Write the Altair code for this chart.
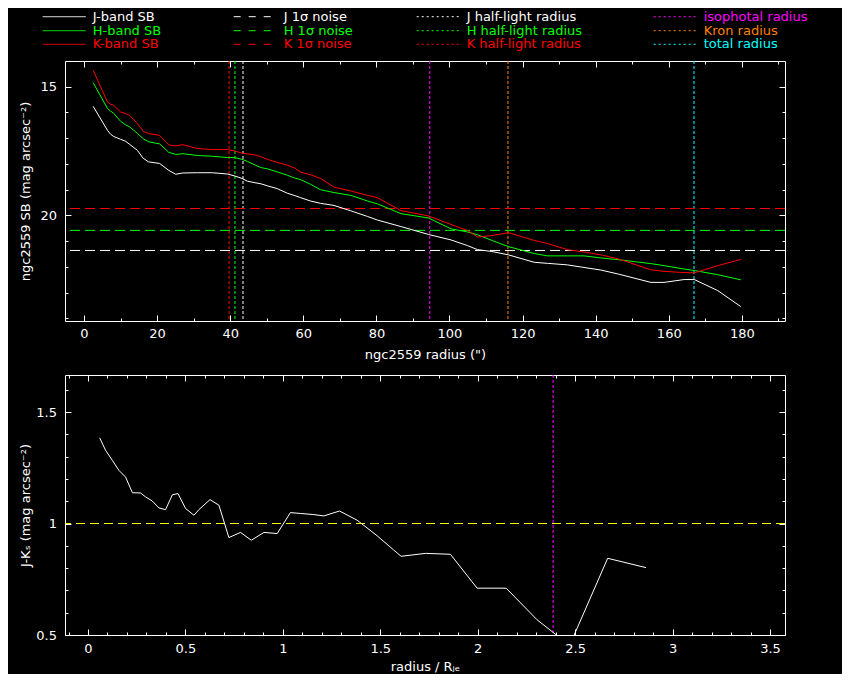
import altair as alt
import pandas as pd

FONT = "DejaVu Sans"
FS = 13

# ---------------- top panel: surface-brightness profiles ----------------
radius = [2.5, 6.4, 7.3, 8.1, 10.0, 11.4, 12.5, 14.6, 16.2, 17.7,
          20.7, 23.2, 25.1, 27.0, 31.0, 35.1, 39.2, 41.1, 43.2, 44.7,
          46.5, 48.4, 50.2, 52.9, 55.7, 57.5, 59.3, 62.0, 64.7, 68.4,
          73.0, 77.6, 80.3, 86.7, 94.3, 100.4, 104.9, 107.7, 111.6, 116.1,
          123.2, 126.8, 132.3, 136.8, 141.4, 146.3, 155.1, 158.7, 164.2, 167.0,
          173.4, 179.7]
sb_j = [15.76, 16.69, 16.85, 16.93, 17.04, 17.12, 17.24, 17.47, 17.78, 17.92,
        17.98, 18.25, 18.40, 18.35, 18.34, 18.34, 18.39, 18.46, 18.56, 18.67,
        18.72, 18.77, 18.85, 18.96, 19.14, 19.22, 19.31, 19.44, 19.53, 19.61,
        19.82, 20.04, 20.18, 20.43, 20.74, 20.95, 21.17, 21.33, 21.40, 21.53,
        21.82, 21.86, 21.92, 22.02, 22.12, 22.28, 22.60, 22.60, 22.49, 22.49,
        22.92, 23.54]
sb_h = [14.84, 15.84, 15.95, 16.03, 16.34, 16.48, 16.56, 16.81, 17.02, 17.14,
        17.22, 17.55, 17.63, 17.60, 17.67, 17.70, 17.75, 17.75, 17.82, 17.90,
        18.02, 18.14, 18.19, 18.31, 18.44, 18.54, 18.61, 18.79, 19.00, 19.11,
        19.22, 19.44, 19.55, 19.93, 20.10, 20.52, 20.64, 20.75, 20.97, 21.21,
        21.48, 21.57, 21.57, 21.57, 21.65, 21.72, 21.87, 21.95, 22.08, 22.14,
        22.30, 22.50]
sb_k = [14.36, 15.59, 15.68, 15.72, 15.98, 16.04, 16.11, 16.43, 16.73, 16.82,
        16.89, 17.26, 17.30, 17.25, 17.40, 17.44, 17.44, 17.49, 17.58, 17.61,
        17.64, 17.72, 17.82, 17.94, 18.05, 18.15, 18.32, 18.42, 18.56, 18.90,
        19.05, 19.22, 19.31, 19.81, 20.02, 20.35, 20.58, 20.84, 20.78, 20.67,
        20.97, 21.09, 21.33, 21.42, 21.53, 21.69, 22.11, 22.17, 22.22, 22.23,
        21.95, 21.71]

noise_band = ["J", "H", "K"]
noise_level = [21.36, 20.58, 19.73]
noise_color = ["#ffffff", "#00ff00", "#ff0000"]

rad_name = ["J half-light", "H half-light", "K half-light", "isophotal", "Kron", "total"]
rad_value = [43.5, 41.3, 39.7, 94.6, 116.0, 166.9]
rad_color = ["#ffffff", "#00ff00", "#ff0000", "#ff00ff", "#ff8000", "#00ffff"]

# ---------------- bottom panel: J-Ks colour profile ----------------
rnorm = [0.060, 0.091, 0.125, 0.159, 0.193, 0.228, 0.270, 0.296, 0.330, 0.364,
         0.398, 0.433, 0.462, 0.501, 0.544, 0.569, 0.626, 0.672, 0.723, 0.783,
         0.838, 0.903, 0.971, 1.039, 1.091, 1.159, 1.210, 1.291, 1.381, 1.484,
         1.569, 1.607, 1.732, 1.860, 1.997, 2.146, 2.305, 2.398, 2.470, 2.667,
         2.864]
jk = [1.384, 1.327, 1.283, 1.238, 1.208, 1.138, 1.137, 1.119, 1.101, 1.070,
      1.062, 1.129, 1.134, 1.067, 1.037, 1.062, 1.107, 1.082, 0.937, 0.960,
      0.925, 0.960, 0.955, 1.049, 1.045, 1.040, 1.034, 1.056, 1.015, 0.945,
      0.881, 0.853, 0.866, 0.862, 0.710, 0.710, 0.568, 0.504, 0.450, 0.844,
      0.802]
jk_ref = [1.0]
iso_norm = [2.387]

# ---------------- ticks ----------------
top_xticks = [0, 20, 40, 60, 80, 100, 120, 140, 160, 180]
top_xminor = [0, 10, 20, 30, 40, 50, 60, 70, 80, 90, 100, 110, 120, 130, 140, 150, 160, 170, 180, 190]
top_yticks = [15, 20]
top_yminor = [15, 16, 17, 18, 19, 20, 21, 22, 23, 24]
bot_xticks = [0, 0.5, 1, 1.5, 2, 2.5, 3, 3.5]
bot_xminor = [round(-0.1 + 0.1 * i, 1) for i in range(37)]
bot_yticks = [0.5, 1, 1.5]
bot_yminor = [0.5, 0.6, 0.7, 0.8, 0.9, 1.0, 1.1, 1.2, 1.3, 1.4, 1.5, 1.6]

# ---------------- legend ----------------
leg_label = ["J-band SB", "H-band SB", "K-band SB",
             "J 1σ noise", "H 1σ noise", "K 1σ noise",
             "J half-light radius", "H half-light radius", "K half-light radius",
             "isophotal radius", "Kron radius", "total radius"]
leg_color = ["#ffffff", "#00ff00", "#ff0000",
             "#ffffff", "#00ff00", "#ff0000",
             "#ffffff", "#00ff00", "#ff0000",
             "#ff00ff", "#ff8000", "#00ffff"]
leg_style = ["solid"] * 3 + ["dash"] * 3 + ["dot"] * 6
leg_col = [0, 0, 0, 1, 1, 1, 2, 2, 2, 3, 3, 3]
leg_row = [0, 1, 2, 0, 1, 2, 0, 1, 2, 0, 1, 2]

# layout (page pixels)
W, H = 720, 260
PLOT_LEFT = 64.3
LEG_TOP, LEG_H = 8, 40
LEG_COL_X = [42, 233, 416, 653]
LEG_ROW_Y = [16.7, 30.7, 44.3]
LEG_LEN, LEG_GAP = 43, 50


def axis(orient, values, size, labels=False, title=None, fmt="", lpad=0, tpad=0):
    kw = dict(orient=orient, values=values, tickSize=size, offset=-size,
              domain=False, grid=False, ticks=True, tickColor="white",
              tickWidth=1, labels=labels, title=title)
    if labels:
        kw.update(labelColor="white", labelFont=FONT, labelFontSize=FS,
                  labelPadding=lpad, labelFlush=False, labelOverlap=False,
                  format=fmt)
    if title:
        kw.update(titleColor="white", titleFont=FONT, titleFontSize=FS,
                  titleFontWeight="normal", titlePadding=tpad)
    return alt.Axis(**kw)


# ----- legend chart -----
df_leg = pd.DataFrame({"label": leg_label, "color": leg_color, "style": leg_style,
                       "col": leg_col, "row": leg_row})
df_leg["x0"] = [LEG_COL_X[c] for c in df_leg["col"]]
df_leg["x1"] = df_leg["x0"] + LEG_LEN
df_leg["xt"] = df_leg["x0"] + LEG_GAP
df_leg["y"] = [LEG_ROW_Y[r] for r in df_leg["row"]]

lx = alt.Scale(domain=[PLOT_LEFT, PLOT_LEFT + W], range=[0, W], nice=False, zero=False)
ly = alt.Scale(domain=[LEG_TOP, LEG_TOP + LEG_H], range=[0, LEG_H], nice=False, zero=False)

leg_rules = alt.Chart(df_leg).mark_rule(strokeWidth=1).encode(
    x=alt.X("x0:Q", scale=lx, axis=None),
    x2="x1:Q",
    y=alt.Y("y:Q", scale=ly, axis=None),
    color=alt.Color("color:N", scale=None),
    strokeDash=alt.StrokeDash("style:N", scale=alt.Scale(domain=["solid", "dash", "dot"],
                                                          range=[[1, 0], [7, 8], [2, 3]]),
                              legend=None),
)
leg_text = alt.Chart(df_leg).mark_text(align="left", baseline="middle", font=FONT,
                                       fontSize=FS).encode(
    x=alt.X("xt:Q", scale=lx, axis=None),
    y=alt.Y("y:Q", scale=ly, axis=None),
    text="label:N",
    color=alt.Color("color:N", scale=None),
)
legend = alt.layer(leg_rules, leg_text).properties(
    width=W, height=LEG_H, view=alt.ViewBackground(strokeOpacity=0))

# ----- top panel -----
xs_top = alt.Scale(domain=[-5.2, 191.8], nice=False, zero=False)
ys_top = alt.Scale(domain=[14.0, 24.1], reverse=True, nice=False, zero=False)

df_sb = pd.DataFrame({"r": radius, "J": sb_j, "H": sb_h, "K": sb_k})
df_noise = pd.DataFrame({"band": noise_band, "level": noise_level, "color": noise_color})
df_rad = pd.DataFrame({"name": rad_name, "value": rad_value, "color": rad_color})

vlines = alt.Chart(df_rad).mark_rule(strokeWidth=1, strokeDash=[3, 2]).encode(
    x=alt.X("value:Q", scale=xs_top, axis=axis("top", top_xminor, 3)),
    color=alt.Color("color:N", scale=None))
hlines = alt.Chart(df_noise).mark_rule(strokeWidth=1, strokeDash=[10, 5]).encode(
    y=alt.Y("level:Q", scale=ys_top, axis=axis("right", top_yminor, 3)),
    color=alt.Color("color:N", scale=None))
jline = alt.Chart(df_sb).mark_line(color="#ffffff", strokeWidth=1).encode(
    x=alt.X("r:Q", scale=xs_top,
            axis=axis("bottom", top_xticks, 6, True, 'ngc2559 radius (")', "d", 6.5, 7.5)),
    y=alt.Y("J:Q", scale=ys_top,
            axis=axis("left", top_yticks, 6, True, "ngc2559 SB (mag arcsec⁻²)", "d", 8.5, 7.8)))
hline = alt.Chart(df_sb).mark_line(color="#00ff00", strokeWidth=1).encode(
    x=alt.X("r:Q", scale=xs_top, axis=axis("bottom", top_xminor, 3)),
    y=alt.Y("H:Q", scale=ys_top, axis=axis("left", top_yminor, 3)))
kline = alt.Chart(df_sb).mark_line(color="#ff0000", strokeWidth=1).encode(
    x=alt.X("r:Q", scale=xs_top, axis=axis("top", top_xticks, 6)),
    y=alt.Y("K:Q", scale=ys_top, axis=axis("right", top_yticks, 6)))

top = alt.layer(vlines, hlines, jline, hline, kline).resolve_axis(
    x="independent", y="independent").properties(width=W, height=H)

# ----- bottom panel -----
xs_bot = alt.Scale(domain=[-0.118, 3.577], nice=False, zero=False)
ys_bot = alt.Scale(domain=[0.5, 1.666], nice=False, zero=False)

df_jk = pd.DataFrame({"rr": rnorm, "c": jk})
df_ref = pd.DataFrame({"v": jk_ref})
df_iso = pd.DataFrame({"v": iso_norm})

cline = alt.Chart(df_jk).mark_line(color="#ffffff", strokeWidth=1, clip=True).encode(
    x=alt.X("rr:Q", scale=xs_bot,
            axis=axis("bottom", bot_xticks, 6, True, "radius / Rⱼₑ", "~g", 7, 5)),
    y=alt.Y("c:Q", scale=ys_bot,
            axis=axis("left", bot_yticks, 6, True, "J-Kₛ (mag arcsec⁻²)", "~g", 8.5, 3.6)))
ref = alt.Chart(df_ref).mark_rule(color="#ffff00", strokeWidth=1, strokeDash=[9, 5]).encode(
    y=alt.Y("v:Q", scale=ys_bot, axis=axis("left", bot_yminor, 3)))
iso = alt.Chart(df_iso).mark_rule(color="#ff00ff", strokeWidth=1, strokeDash=[3, 2]).encode(
    x=alt.X("v:Q", scale=xs_bot, axis=axis("bottom", bot_xminor, 3)))
ghost1 = alt.Chart(df_jk).mark_point(opacity=0, clip=True).encode(
    x=alt.X("rr:Q", scale=xs_bot, axis=axis("top", bot_xticks, 6)),
    y=alt.Y("c:Q", scale=ys_bot, axis=axis("right", bot_yticks, 6)))
ghost2 = alt.Chart(df_jk).mark_point(opacity=0, clip=True).encode(
    x=alt.X("rr:Q", scale=xs_bot, axis=axis("top", bot_xminor, 3)),
    y=alt.Y("c:Q", scale=ys_bot, axis=axis("right", bot_yminor, 3)))

bottom = alt.layer(ref, iso, cline, ghost1, ghost2).resolve_axis(
    x="independent", y="independent").properties(width=W, height=H)

panels = alt.vconcat(top, bottom, spacing=54, bounds="flush")
chart = alt.vconcat(legend, panels, spacing=13, bounds="flush").properties(
    padding={"left": 10, "top": 0, "right": 34, "bottom": 0}
).configure(background="black").configure_view(stroke="white", strokeWidth=1)

chart.save("out.html", embed_options={"renderer": "svg", "actions": False})
